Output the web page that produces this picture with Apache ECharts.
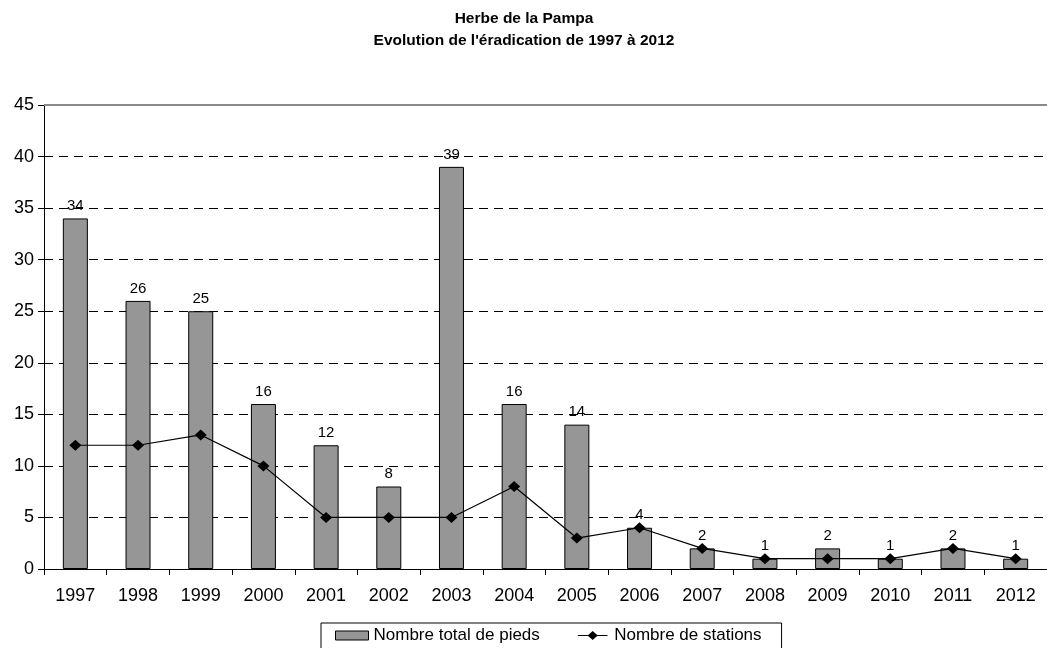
<!DOCTYPE html>
<html><head><meta charset="utf-8">
<script src="https://cdn.jsdelivr.net/npm/echarts@6/dist/echarts.min.js"></script>
<style>html,body{margin:0;padding:0;background:#fff}#c{width:1047px;height:648px}</style>
</head><body><div id="c"></div>
<script>
const years = ['1997','1998','1999','2000','2001','2002','2003','2004','2005','2006','2007','2008','2009','2010','2011','2012'];
const pieds = [34,26,25,16,12,8,39,16,14,4,2,1,2,1,2,1];
const stations = [12,12,13,10,5,5,5,8,3,4,2,1,1,1,2,1];
const yTicks = {min:0, max:45, interval:5};

const chart = echarts.init(document.getElementById('c'), null, {renderer:'canvas'});
const font = '"Liberation Sans", Arial, sans-serif';
chart.setOption({
  animation:false,
  backgroundColor:'#fff',
  textStyle:{fontFamily:font},
  title:{
    text:'Herbe de la Pampa\nEvolution de l\'éradication de 1997 à 2012',
    left:519, textAlign:'center', top:3,
    textStyle:{fontFamily:font, fontSize:15.5, fontWeight:'bold', color:'#000', lineHeight:22}
  },
  legend:{
    left:321, top:623,
    borderColor:'#000', borderWidth:1, padding:[4,20,6,14],
    itemGap:38, itemWidth:33, itemHeight:9,
    textStyle:{fontFamily:font, fontSize:17, color:'#000'},
    data:[
      {name:'Nombre total de pieds', icon:'rect', itemStyle:{color:'#969696', borderColor:'#000', borderWidth:1}},
      {name:'Nombre de stations', icon:'path://M0,4.5L11.5,4.5L16.5,0L21.5,4.5L33,4.5L33,5.5L21.5,5.5L16.5,10L11.5,5.5L0,5.5Z', itemStyle:{color:'#000'}}
    ]
  },
  grid:{left:44, top:105, width:1006, height:464, containLabel:false},
  xAxis:{
    type:'category', data:years, boundaryGap:true,
    axisLine:{lineStyle:{color:'#000', width:1}},
    axisTick:{show:true, length:6, inside:false, lineStyle:{color:'#000'}},
    axisLabel:{fontFamily:font, fontSize:18, color:'#000', margin:18}
  },
  yAxis:{
    type:'value', min:yTicks.min, max:yTicks.max, interval:yTicks.interval,
    axisLine:{show:true, lineStyle:{color:'#000', width:1}},
    axisTick:{show:true, length:6, lineStyle:{color:'#000'}},
    axisLabel:{fontFamily:font, fontSize:18, color:'#000', margin:10},
    splitLine:{show:true, lineStyle:{color:'#000', width:1, type:[9,6]}}
  },
  series:[
    {
      name:'Nombre total de pieds', type:'bar', data:pieds, barWidth:25,
      itemStyle:{color:'#969696', borderColor:'#000', borderWidth:1},
      label:{show:true, position:'top', distance:5, fontFamily:font, fontSize:15, color:'#000'},
      markLine:{silent:true, symbol:'none', label:{show:false},
        lineStyle:{color:'#8a8a8a', type:'solid', width:2},
        data:[{yAxis:yTicks.max}]}
    },
    {
      name:'Nombre de stations', type:'line', data:stations,
      symbol:'diamond', symbolSize:[12,11],
      lineStyle:{color:'#000', width:1.2},
      itemStyle:{color:'#000'}
    }
  ]
});
</script></body></html>
